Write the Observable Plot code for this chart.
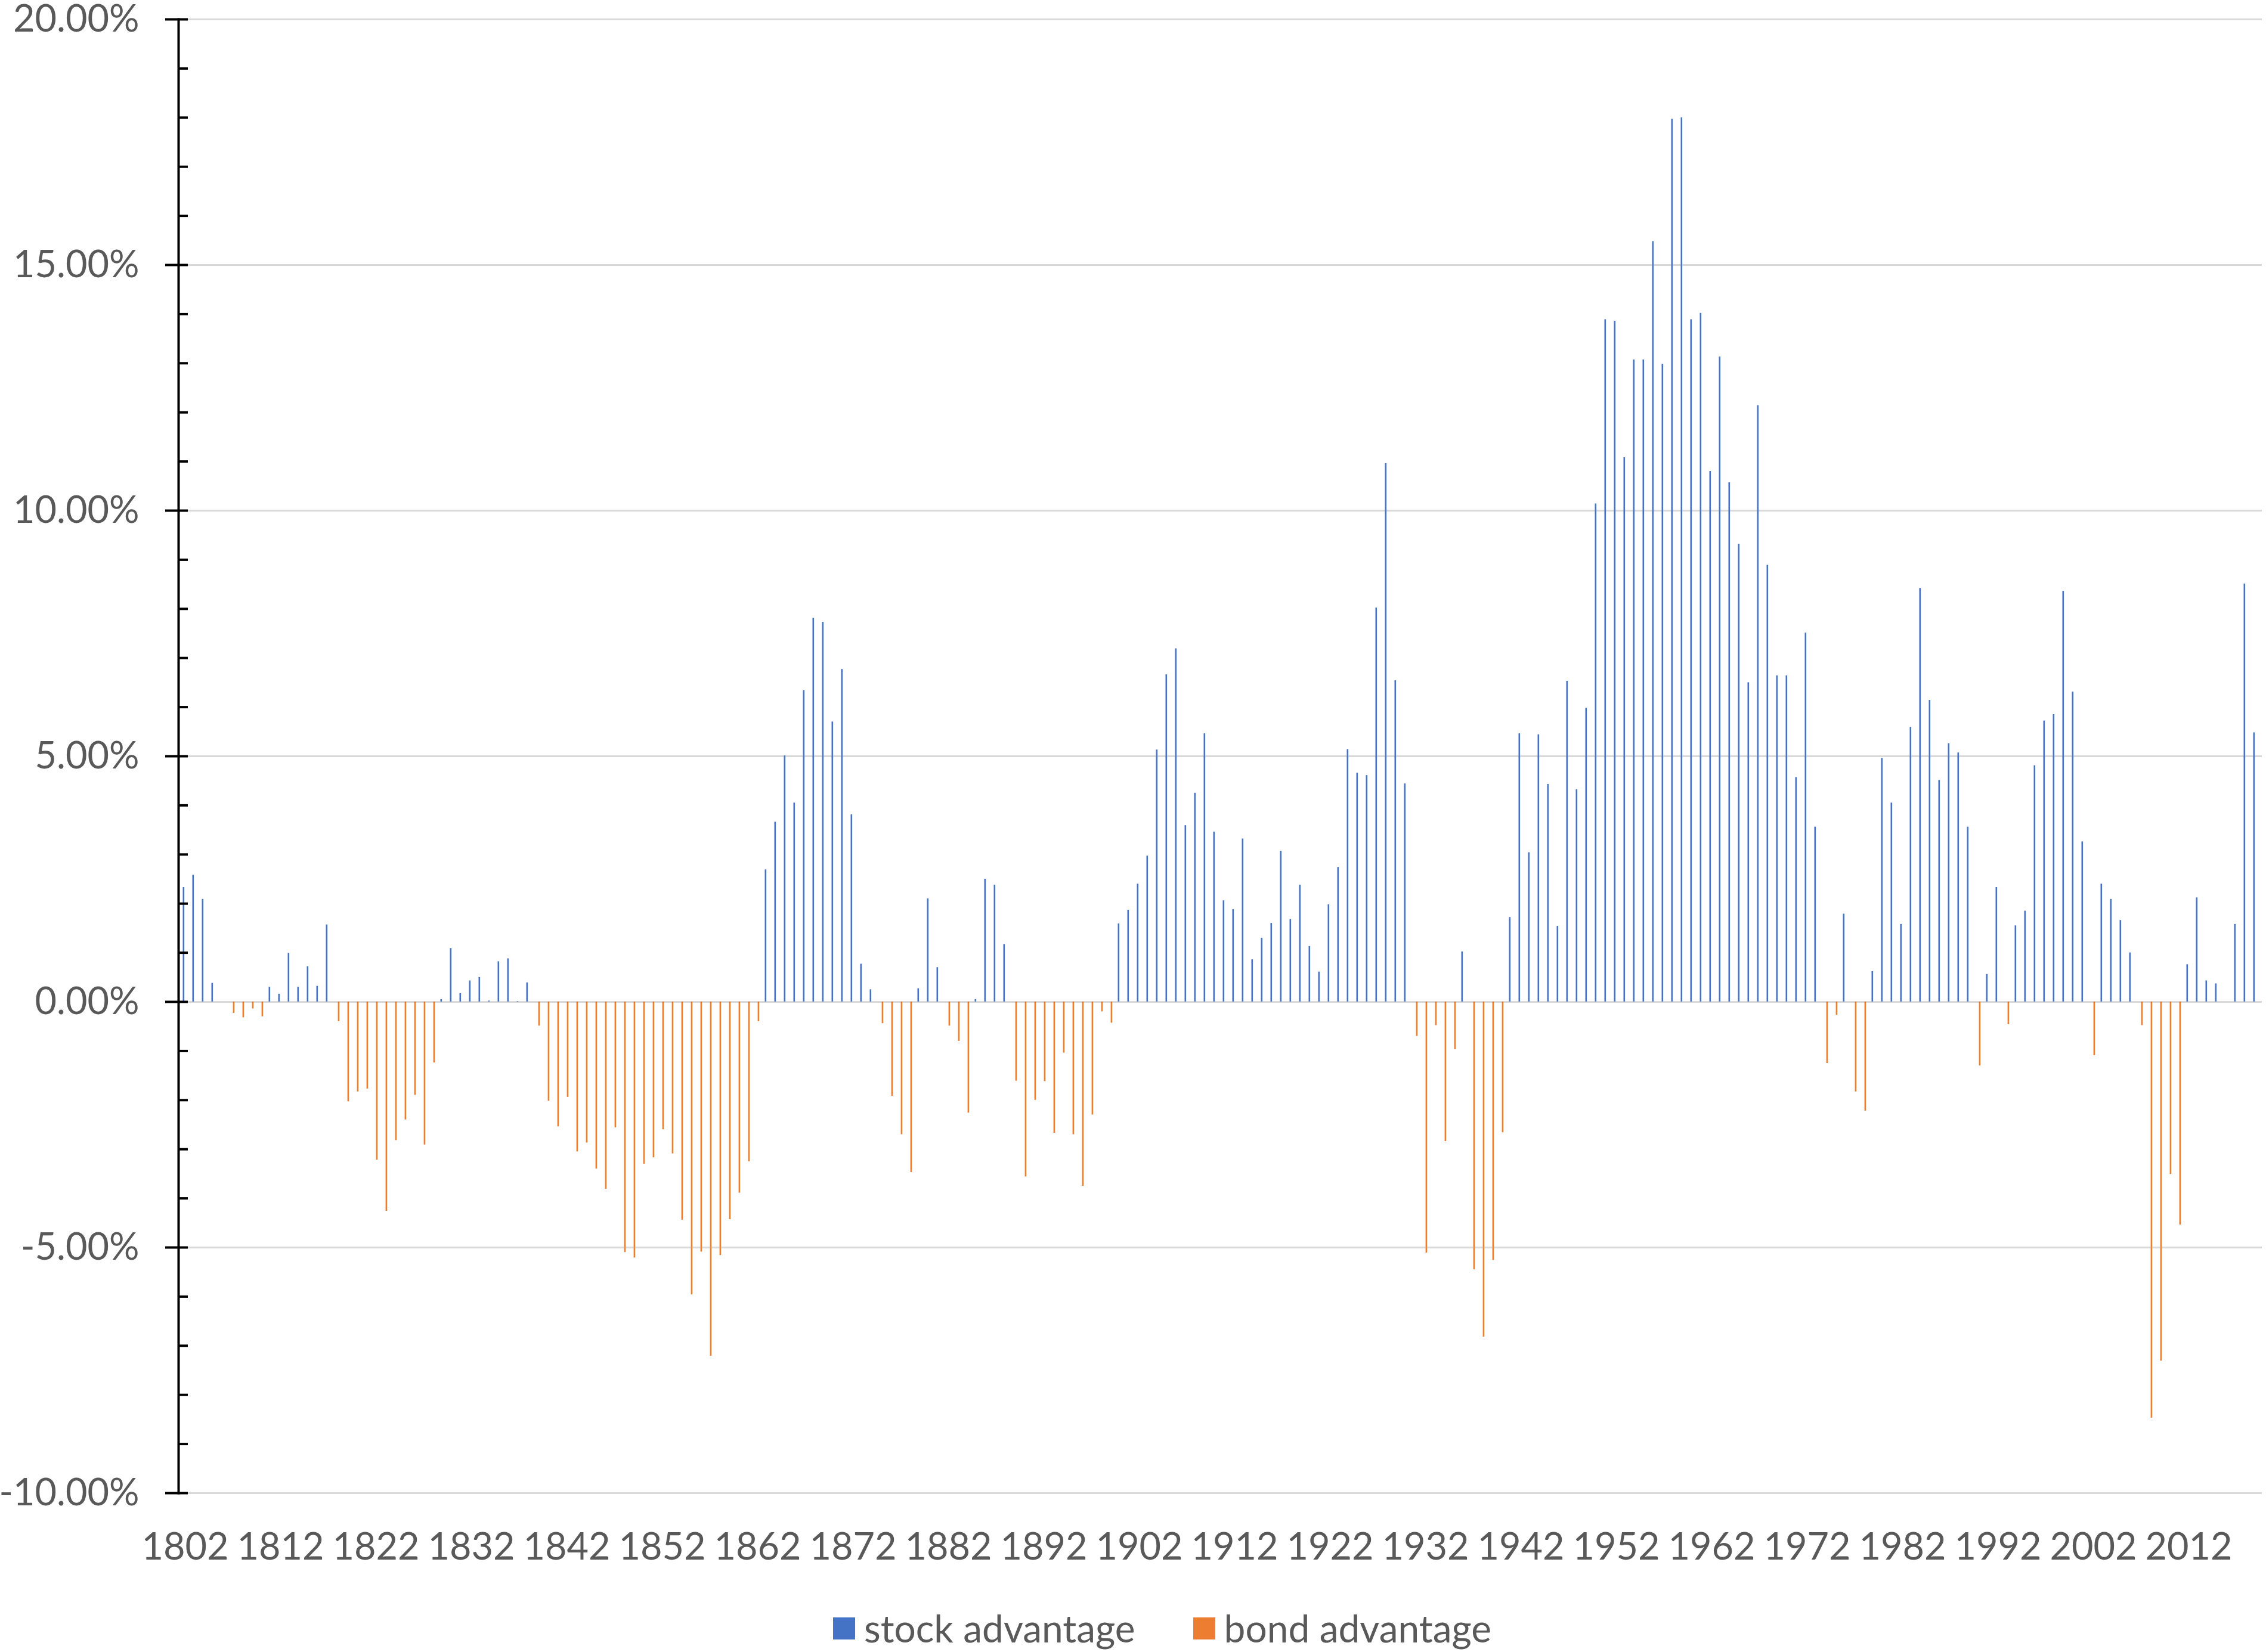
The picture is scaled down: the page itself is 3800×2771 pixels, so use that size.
<!DOCTYPE html>
<html>
<head>
<meta charset="utf-8">
<script src="https://cdn.jsdelivr.net/npm/d3@7"></script>
<script src="https://cdn.jsdelivr.net/npm/@observablehq/plot@0.6"></script>
<style>
  html, body { margin: 0; padding: 0; background: #fff; }
  #chart { position: relative; width: 3800px; height: 2771px; font-family: Lato, "Open Sans", sans-serif; }
  #chart svg { position: absolute; left: 0; top: 0; }
  #legend { position: absolute; left: 1397px; top: 2698px; display: flex; align-items: center;
            font-size: 64px; line-height: 66px; color: #595959; font-family: Lato, "Open Sans", sans-serif; }
  .sw { width: 37px; height: 37px; display: inline-block; margin-right: 15px; }
  .item { display: flex; align-items: center; }
  .item + .item { margin-left: 97px; }
</style>
</head>
<body>
<div id="chart"></div>
<script>
// first category of the x axis
const firstYear = 1802;

// stock return minus bond return (percentage points), one value per year 1802..2019
const advantage = [
  2.33, 2.58, 2.09, 0.38, 0, -0.23, -0.32, -0.14, -0.30, 0.30,        // 1802-1811
  0.16, 0.99, 0.30, 0.72, 0.32, 1.57, -0.40, -2.03, -1.83, -1.77,     // 1812-1821
  -3.22, -4.26, -2.82, -2.40, -1.90, -2.91, -1.24, 0.05, 1.09, 0.17,  // 1822-1831
  0.43, 0.50, 0.02, 0.82, 0.88, 0.01, 0.39, -0.49, -2.02, -2.54,      // 1832-1841
  -1.94, -3.05, -2.87, -3.40, -3.81, -2.56, -5.10, -5.21, -3.30, -3.17, // 1842-1851
  -2.60, -3.09, -4.44, -5.96, -5.09, -7.21, -5.16, -4.43, -3.89, -3.25, // 1852-1861
  -0.40, 2.69, 3.66, 5.01, 4.05, 6.34, 7.81, 7.73, 5.70, 6.77,        // 1862-1871
  3.81, 0.77, 0.25, -0.44, -1.92, -2.70, -3.47, 0.27, 2.10, 0.70,     // 1872-1881
  -0.49, -0.80, -2.26, 0.05, 2.50, 2.38, 1.17, -1.61, -3.56, -2.00,   // 1882-1891
  -1.62, -2.67, -1.04, -2.70, -3.75, -2.30, -0.20, -0.43, 1.59, 1.87, // 1892-1901
  2.40, 2.97, 5.13, 6.66, 7.19, 3.59, 4.25, 5.46, 3.46, 2.06,         // 1902-1911
  1.88, 3.32, 0.86, 1.30, 1.60, 3.07, 1.68, 2.38, 1.13, 0.61,         // 1912-1921
  1.98, 2.74, 5.14, 4.66, 4.61, 8.02, 10.96, 6.54, 4.44, -0.70,       // 1922-1931
  -5.11, -0.48, -2.84, -0.97, 1.02, -5.45, -6.82, -5.26, -2.66, 1.72, // 1932-1941
  5.46, 3.04, 5.44, 4.43, 1.54, 6.53, 4.32, 5.98, 10.14, 13.89,       // 1942-1951
  13.86, 11.08, 13.07, 13.07, 15.48, 12.98, 17.97, 18.00, 13.89, 14.02, // 1952-1961
  10.80, 13.13, 10.57, 9.32, 6.50, 12.14, 8.89, 6.64, 6.64, 4.57,     // 1962-1971
  7.51, 3.56, -1.25, -0.27, 1.79, -1.83, -2.22, 0.62, 4.96, 4.05,     // 1972-1981
  1.58, 5.59, 8.42, 6.14, 4.51, 5.26, 5.07, 3.56, -1.30, 0.56,        // 1982-1991
  2.33, -0.46, 1.55, 1.85, 4.81, 5.72, 5.85, 8.36, 6.31, 3.26,        // 1992-2001
  -1.09, 2.40, 2.09, 1.66, 1.00, -0.48, -8.47, -7.31, -3.51, -4.54,   // 2002-2011
  0.76, 2.12, 0.43, 0.37, 0, 1.58, 8.51, 5.48                          // 2012-2019
];

const seriesNames = ["stock advantage", "bond advantage"];
const seriesColors = ["#4472C4", "#ED7D31"];
const majorTicks = [-10, -5, 0, 5, 10, 15, 20];
const minorTicks = [-10, -9, -8, -7, -6, -5, -4, -3, -2, -1, 0, 1, 2, 3, 4, 5, 6, 7, 8, 9, 10,
                    11, 12, 13, 14, 15, 16, 17, 18, 19, 20];
const labelEvery = 10;

const years = advantage.map((_, i) => firstYear + i);
const tickYears = years.filter((_, i) => i % labelEvery === 0);
const rows = years.map((year, i) => ({year, value: advantage[i]}));
const stockRows = rows.filter(d => d.value > 0);
const bondRows = rows.filter(d => d.value < 0);

const plot = Plot.plot({
  width: 3800,
  height: 2660,
  marginTop: 32,
  marginBottom: 156,
  marginLeft: 299,
  marginRight: 7,
  style: {fontFamily: "Lato, 'Open Sans', sans-serif", fontSize: "63px", color: "#595959", background: "white", overflow: "visible"},
  x: {type: "band", domain: years, padding: 0, label: null},
  y: {domain: [-10, 20], label: null},
  marks: [
    Plot.gridY(majorTicks, {stroke: "#d9d9d9", strokeOpacity: 1, strokeWidth: 3}),
    Plot.barY(stockRows, {x: "year", y: "value", fill: seriesColors[0], insetLeft: 4.5, insetRight: 8.9}),
    Plot.barY(bondRows, {x: "year", y: "value", fill: seriesColors[1], insetLeft: 8.6, insetRight: 4.8}),
    Plot.frame({anchor: "left", stroke: "black", strokeWidth: 4}),
    Plot.axisY(minorTicks, {tickSize: -16, tickFormat: () => "", label: null, stroke: "black", strokeWidth: 4}),
    Plot.axisY(majorTicks, {tickSize: 22, tickPadding: 44, tickFormat: d => d.toFixed(2) + "%", label: null,
                            stroke: "black", strokeWidth: 4, fill: "#595959", fontSize: 63}),
    Plot.axisX(tickYears, {tickSize: 0, tickPadding: 67, tickFormat: d => String(d), label: null,
                           fill: "#595959", fontSize: 63})
  ]
});

const chart = document.getElementById("chart");
chart.appendChild(plot);

const legend = document.createElement("div");
legend.id = "legend";
seriesNames.forEach((name, i) => {
  const item = document.createElement("div");
  item.className = "item";
  const sw = document.createElement("span");
  sw.className = "sw";
  sw.style.background = seriesColors[i];
  const label = document.createElement("span");
  label.textContent = name;
  item.appendChild(sw);
  item.appendChild(label);
  legend.appendChild(item);
});
chart.appendChild(legend);
</script>
</body>
</html>
